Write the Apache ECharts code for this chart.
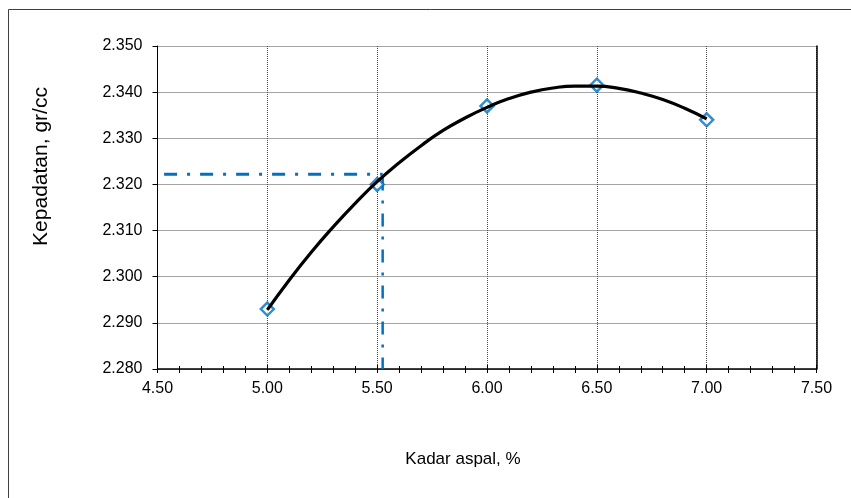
<!DOCTYPE html>
<html>
<head>
<meta charset="utf-8">
<script src="https://cdn.jsdelivr.net/npm/echarts@6/dist/echarts.min.js"></script>
<style>
  html, body { margin: 0; padding: 0; background: #fff; }
  #chart { width: 851px; height: 498px; }
</style>
</head>
<body>
<div id="chart"></div>
<script>
// titik uji
const kadarAspal = [5.0, 5.5, 6.0, 6.5, 7.0];
const kepadatan = [2.293, 2.320, 2.337, 2.3415, 2.334];

// garis trend
const trendX = [5.0, 5.1, 5.2, 5.3, 5.4, 5.5, 5.6, 5.7, 5.8, 5.9, 6.0,
                6.1, 6.2, 6.3, 6.4, 6.5, 6.6, 6.7, 6.8, 6.9, 7.0];
const trendY = [2.2928, 2.2993, 2.3053, 2.3108, 2.3159, 2.3206, 2.3247, 2.3284, 2.3317, 2.3344, 2.3367,
                2.3386, 2.3400, 2.3409, 2.3413, 2.3413, 2.3408, 2.3398, 2.3384, 2.3365, 2.3342];

// garis bantu kadar aspal optimum
const bantuHorX = [4.53, 5.525];
const bantuHorY = [2.3222, 2.3222];
const bantuVerX = [5.525, 5.525];
const bantuVerY = [2.3215, 2.280];

const xTicks = { min: 4.5, max: 7.5, step: 0.5 };
const yTicks = { min: 2.28, max: 2.35, step: 0.01 };

const pairs = (xs, ys) => xs.map((x, i) => [x, ys[i]]);

const font = 'Liberation Sans, Arial, sans-serif';
const biru = '#0070C0';
const grid = { color: '#4a4a4a', width: 1, type: [1, 1] };

let chart = echarts.init(document.getElementById('chart'));

chart.setOption({
  animation: false,
  textStyle: { fontFamily: font },
  graphic: [{
    type: 'rect',
    shape: { x: 8.5, y: 9.5, width: 900, height: 600 },
    style: { fill: 'none', stroke: '#404040', lineWidth: 1 },
    silent: true
  }],
  grid: { left: 157.5, right: 34.5, top: 46, bottom: 129 },
  xAxis: [{
    type: 'value',
    position: 'bottom',
    min: xTicks.min, max: xTicks.max, interval: xTicks.step,
    name: 'Kadar aspal, %',
    nameLocation: 'middle',
    nameGap: 82,
    nameTextStyle: { fontSize: 17, color: '#000', padding: [0, 48, 0, 0] },
    axisLine: { lineStyle: { color: '#000', width: 1.5 } },
    axisTick: { length: 4, lineStyle: { color: '#000' } },
    minorTick: { show: true, splitNumber: 5, length: 4, lineStyle: { color: '#000' } },
    axisLabel: { fontSize: 16, color: '#000', margin: 12, formatter: v => v.toFixed(2) },
    splitLine: { show: true, lineStyle: grid }
  }, {
    // tick ke dalam (silang)
    type: 'value',
    position: 'bottom',
    min: xTicks.min, max: xTicks.max, interval: xTicks.step,
    axisLine: { show: false },
    axisTick: { inside: true, length: 4, lineStyle: { color: '#000' } },
    minorTick: { show: true, splitNumber: 5, length: 3, lineStyle: { color: '#000' } },
    axisLabel: { show: false },
    splitLine: { show: false }
  }],
  yAxis: [{
    type: 'value',
    position: 'left',
    min: yTicks.min, max: yTicks.max, interval: yTicks.step,
    name: 'Kepadatan, gr/cc',
    nameLocation: 'middle',
    nameGap: 106,
    nameRotate: 90,
    nameTextStyle: { fontSize: 21, color: '#000', padding: [0, 0, 0, 82] },
    axisLine: { show: true, lineStyle: { color: '#000', width: 1 } },
    axisTick: { show: true, length: 5, lineStyle: { color: '#000' } },
    axisLabel: { fontSize: 16, color: '#000', margin: 15, formatter: v => v.toFixed(3) },
    splitLine: { show: true, lineStyle: grid }
  }, {
    type: 'value',
    position: 'right',
    min: yTicks.min, max: yTicks.max, interval: yTicks.step,
    axisLine: { show: true, lineStyle: { color: '#000', width: 1.5 } },
    axisTick: { show: false },
    axisLabel: { show: false },
    splitLine: { show: false }
  }],
  series: [{
    name: 'Data',
    type: 'scatter',
    data: pairs(kadarAspal, kepadatan),
    symbol: 'diamond',
    symbolSize: 13,
    itemStyle: { color: '#fff', borderColor: biru, borderWidth: 2.5 },
    z: 3
  }, {
    name: 'Trend',
    type: 'line',
    data: pairs(trendX, trendY),
    smooth: true,
    showSymbol: false,
    lineStyle: { color: '#000', width: 3.2 },
    z: 4
  }, {
    name: 'Bantu H',
    type: 'line',
    data: pairs(bantuHorX, bantuHorY),
    showSymbol: false,
    lineStyle: { color: biru, width: 3, type: [13, 10, 3, 10] },
    z: 2
  }, {
    name: 'Bantu V',
    type: 'line',
    data: pairs(bantuVerX, bantuVerY),
    showSymbol: false,
    lineStyle: { color: biru, width: 2.5, type: [13, 10, 3, 10] },
    z: 2
  }]
});
</script>
</body>
</html>
